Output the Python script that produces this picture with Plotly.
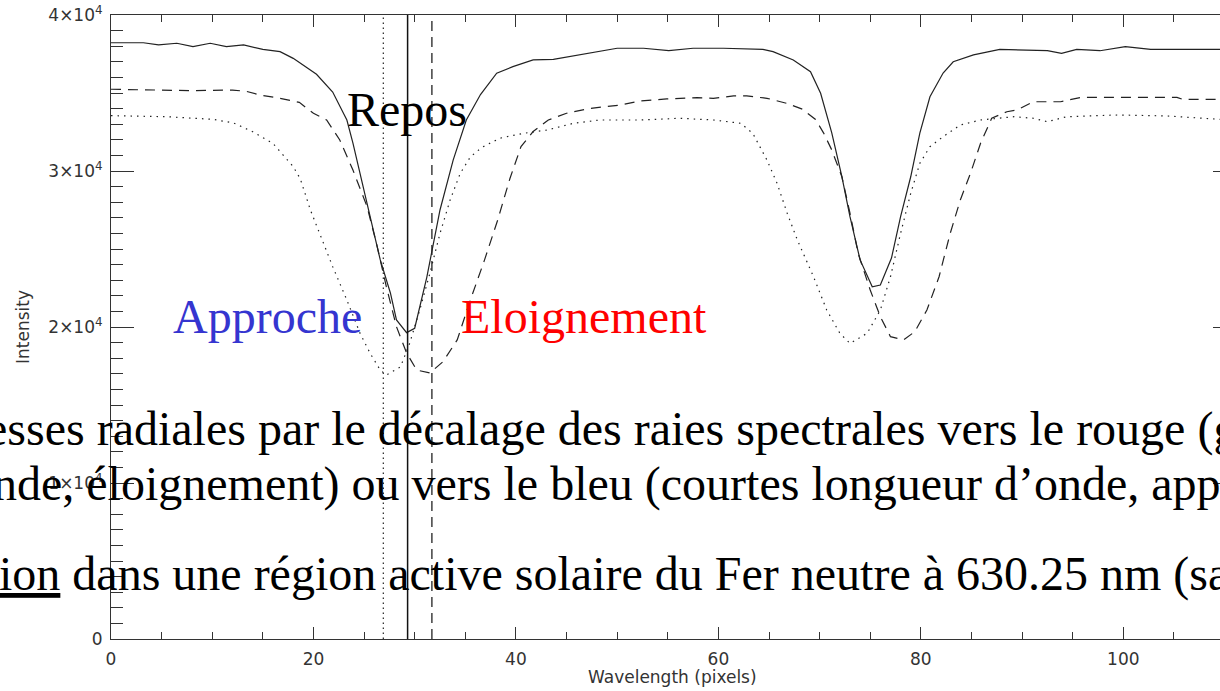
import plotly.graph_objects as go

# ---- data ----
x_repos = [0, 3.2, 4.7, 6.5, 8.1, 9.8, 11.4, 13.1, 15.0, 16.7, 18.0, 18.7, 20.3, 21.9, 23.3, 23.9,
           25.3, 26.6, 27.6, 28.2, 29.2, 30.0, 31.2, 32.5, 33.8, 35.1, 36.5, 38.1, 39.7, 41.7, 43.7,
           46.3, 50.0, 52.6, 55.1, 57.5, 60.5, 64.4, 65.4, 67.4, 69.1, 70.1, 71.2, 72.2, 73.0, 74.0,
           75.2, 76.0, 77.1, 78.0, 79.0, 79.9, 80.9, 82.2, 83.2, 85.2, 87.8, 92.5, 93.9, 95.4, 97.7,
           100.2, 102.7, 109.6]
y_repos = [38220, 38220, 38080, 38190, 37970, 38190, 37970, 38080, 37800, 37650, 37220, 36900, 36200,
           35060, 33270, 31790, 27950, 24300, 22180, 20450, 19640, 19920, 23200, 27500, 30700, 33270,
           34900, 36270, 36690, 37120, 37160, 37440, 37870, 37870, 37710, 37870, 37870, 37800, 37650,
           37120, 36370, 34980, 32440, 29640, 27070, 24300, 22580, 22690, 24420, 27070, 29630, 32430,
           34760, 36280, 37000, 37440, 37800, 37710, 37540, 37800, 37710, 37970, 37800, 37800]

x_eloign = [0, 4.2, 8.0, 12.0, 13.4, 14.7, 16.7, 18.6, 20.0, 21.3, 22.6, 23.9, 25.3, 26.3, 27.2, 28.2,
            29.2, 30.2, 31.5, 32.8, 34.2, 35.5, 36.9, 38.2, 39.4, 40.5, 41.7, 43.2, 45.0, 47.2, 50.3,
            52.3, 54.9, 57.9, 59.5, 61.5, 62.8, 64.8, 66.8, 68.3, 69.6, 70.4, 71.2, 72.2, 73.0, 73.8,
            75.0, 76.0, 77.0, 78.3, 79.4, 80.6, 81.8, 82.9, 83.9, 84.9, 85.9, 87.0, 88.5, 89.5, 91.1,
            93.8, 95.8, 105.3, 105.9, 109.6]
y_eloign = [35240, 35200, 35150, 35190, 35100, 34870, 34660, 34400, 33700, 33270, 31990, 30060, 27710,
            25150, 22580, 20020, 18330, 17240, 17050, 17780, 19170, 21730, 24300, 26860, 29500, 31560,
            32530, 33270, 33700, 34000, 34230, 34490, 34620, 34700, 34660, 34810, 34810, 34660, 34330,
            33960, 33300, 32430, 31350, 29630, 27300, 24740, 22370, 20660, 19380, 19170, 19700, 21090,
            23220, 26000, 28140, 29850, 31780, 33380, 33800, 33910, 34440, 34440, 34720, 34720, 34590,
            34590]

x_approche = [0, 5.5, 10.1, 12.1, 14.0, 16.0, 18.0, 18.7, 19.7, 20.7, 21.9, 23.3, 24.6, 25.6, 26.6,
              27.2, 28.6, 29.5, 30.5, 31.5, 32.5, 33.5, 34.5, 35.5, 36.6, 38.4, 40.7, 43.1, 45.7, 48.3,
              52.3, 56.2, 59.5, 62.2, 63.4, 64.8, 65.8, 66.8, 67.8, 69.4, 70.7, 72.0, 73.0, 74.7, 76.0,
              77.0, 78.0, 79.0, 79.9, 80.9, 82.2, 83.9, 85.9, 89.2, 91.1, 92.5, 94.4, 99.4, 104.3, 109.6]
y_approche = [33550, 33480, 33310, 33080, 32520, 31770, 30280, 29500, 27500, 25790, 23870, 21730, 19600,
              18310, 17240, 16920, 17450, 18950, 21090, 23440, 26000, 28140, 29850, 30900, 31500, 32100,
              32410, 32630, 33060, 33270, 33270, 33380, 33270, 33060, 32410, 30700, 29210, 27290, 25580,
              23220, 21090, 19600, 18950, 19600, 21090, 23220, 26000, 28570, 30490, 31560, 32200, 32950,
              33270, 33480, 33380, 33160, 33480, 33590, 33530, 33310]

# line-centre markers (pixels)
centre_approche = 26.9
centre_repos = 29.3
centre_eloign = 31.7

y_tickvals = [0, 10000, 20000, 30000, 40000]
y_ticktext = ["0", "1×10<sup>4</sup>", "2×10<sup>4</sup>", "3×10<sup>4</sup>", "4×10<sup>4</sup>"]
x_tickvals = [0, 20, 40, 60, 80, 100]
x_ticktext = ["0", "20", "40", "60", "80", "100"]

line1 = "esses radiales par le décalage des raies spectrales vers le rouge (g"
line2 = "nde, éloignement) ou vers le bleu (courtes longueur d’onde, appr"
line3 = "<u>ion</u> dans une région active solaire du Fer neutre à 630.25 nm (sa"

# ---- figure ----
W, H = 1220, 691
L, R, T, B = 111, 0, 15, 52
pw, ph = W - L - R, H - T - B
px_per_unit = 10.123
x_max = pw / px_per_unit

def px2paper_x(px):
    return (px - L) / pw

def py2paper_y(py):
    return (T + ph - py) / ph

ink = "#222222"
fig = go.Figure()
fig.add_trace(go.Scatter(x=x_repos, y=y_repos, mode="lines",
                         line=dict(color=ink, width=1.2), hoverinfo="skip"))
fig.add_trace(go.Scatter(x=x_eloign, y=y_eloign, mode="lines",
                         line=dict(color=ink, width=1.2, dash="10px,7px"), hoverinfo="skip"))
fig.add_trace(go.Scatter(x=x_approche, y=y_approche, mode="lines",
                         line=dict(color=ink, width=1.2, dash="1.5px,5px"), hoverinfo="skip"))
fig.add_trace(go.Scatter(x=[centre_approche, centre_approche], y=[0, 40000], mode="lines",
                         line=dict(color=ink, width=1.2, dash="1.5px,3.5px"), hoverinfo="skip"))
fig.add_trace(go.Scatter(x=[centre_repos, centre_repos], y=[0, 40000], mode="lines",
                         line=dict(color="#111111", width=1.5), hoverinfo="skip"))
fig.add_trace(go.Scatter(x=[centre_eloign, centre_eloign], y=[0, 40000], mode="lines",
                         line=dict(color=ink, width=1.3, dash="10px,6px"), hoverinfo="skip"))
fig.add_trace(go.Scatter(x=[None], y=[None], yaxis="y2", mode="lines", hoverinfo="skip"))

axis_font = dict(family="DejaVu Sans", size=17, color="#333333")
serif = "Liberation Serif, Times New Roman, serif"

fig.update_layout(
    width=W, height=H,
    margin=dict(l=L, r=R, t=T, b=B, pad=0),
    paper_bgcolor="white", plot_bgcolor="white",
    showlegend=False,
    xaxis=dict(range=[0, x_max], showgrid=False, zeroline=False,
               showline=True, linecolor="#333333", linewidth=1, mirror="ticks",
               ticks="inside", ticklen=12, tickcolor="#333333", tickwidth=1,
               tickvals=x_tickvals, ticktext=x_ticktext, tickfont=axis_font,
               ticklabelstandoff=5,
               minor=dict(ticks="inside", ticklen=7, dtick=5, tick0=0, tickcolor="#333333", showgrid=False)),
    yaxis=dict(range=[0, 40000], showgrid=False, zeroline=False,
               showline=True, linecolor="#333333", linewidth=1, mirror=False,
               ticks="inside", ticklen=23, tickcolor="#333333", tickwidth=1,
               tickvals=y_tickvals, ticktext=y_ticktext, tickfont=axis_font,
               ticklabelstandoff=4,
               minor=dict(ticks="inside", ticklen=12, dtick=1000, tick0=0, tickcolor="#333333", showgrid=False)),
    yaxis2=dict(overlaying="y", side="right", anchor="x", range=[0, 40000], showgrid=False,
                zeroline=False, showline=False, ticks="inside", ticklen=7, tickcolor="#333333",
                tickvals=[10000, 20000, 30000], showticklabels=False),
)

ann = []
ann.append(dict(text="Wavelength (pixels)", xref="paper", yref="paper",
                x=px2paper_x(672), y=py2paper_y(677), xanchor="center", yanchor="middle",
                showarrow=False, font=axis_font))
ann.append(dict(text="Intensity", xref="paper", yref="paper", textangle=-90,
                x=px2paper_x(23), y=py2paper_y(327), xanchor="center", yanchor="middle",
                showarrow=False, font=axis_font))
ann.append(dict(text="Repos", xref="paper", yref="paper",
                x=px2paper_x(406.5), y=py2paper_y(109), xanchor="center", yanchor="middle",
                showarrow=False, font=dict(family=serif, size=48, color="black")))
ann.append(dict(text="Approche", xref="paper", yref="paper",
                x=px2paper_x(171), y=py2paper_y(317), xanchor="left", yanchor="middle",
                showarrow=False, font=dict(family=serif, size=48, color="#3535D0")))
ann.append(dict(text="Eloignement", xref="paper", yref="paper",
                x=px2paper_x(459), y=py2paper_y(317), xanchor="left", yanchor="middle",
                showarrow=False, font=dict(family=serif, size=48, color="#FF0000")))
ann.append(dict(text=line1, xref="paper", yref="paper",
                x=px2paper_x(-16), y=py2paper_y(429), xanchor="left", yanchor="middle",
                showarrow=False, font=dict(family=serif, size=48, color="black")))
ann.append(dict(text=line2, xref="paper", yref="paper",
                x=px2paper_x(-9), y=py2paper_y(484), xanchor="left", yanchor="middle",
                showarrow=False, font=dict(family=serif, size=48, color="black")))
ann.append(dict(text=line3, xref="paper", yref="paper",
                x=px2paper_x(-3), y=py2paper_y(574), xanchor="left", yanchor="middle",
                showarrow=False, font=dict(family=serif, size=48, color="black")))
fig.update_layout(annotations=ann)

fig.write_html("out.html", config={"displayModeBar": False},
               post_script="document.body.style.margin='0';document.body.style.overflow='hidden';")
